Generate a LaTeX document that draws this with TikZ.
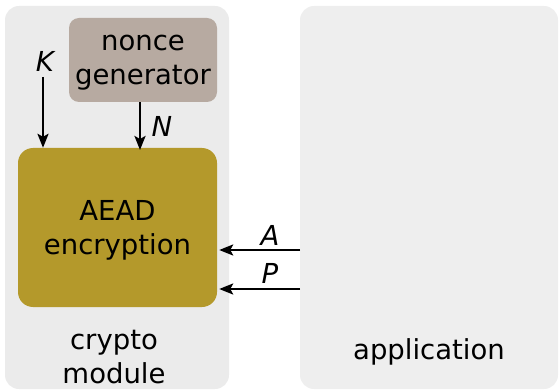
\documentclass[tikz,border=0pt]{standalone}
\usepackage{fontspec}
\setmainfont{DejaVu Sans}
\usetikzlibrary{arrows.meta}
\definecolor{modbg}{HTML}{EBEBEB}
\definecolor{appbg}{HTML}{EEEEEE}
\definecolor{noncec}{HTML}{B7AAA1}
\definecolor{aeadc}{HTML}{B4992B}
\tikzset{
  lbl/.style={font=\fontsize{27.5}{34}\selectfont, inner sep=0pt, align=center},
  var/.style={font=\fontsize{27.5}{34}\selectfont\itshape, inner sep=0pt},
  arrowline/.style={draw=black, line width=2.4pt, arrows={-Stealth[length=14pt,width=11pt,inset=3pt]}},
  box/.style={inner sep=0pt, draw=none},
}
\begin{document}
\begin{tikzpicture}[x=1pt,y=-1pt]
\useasboundingbox (0,0) rectangle (559,390);
\fill[modbg, rounded corners=14pt] (5,6) rectangle (229,389);
\fill[appbg, rounded corners=14pt] (300,6) rectangle (558,389);
\node[lbl] (crypto) at (114,357) {crypto\\module};
\node[lbl] (app) at (429,352) {application};
\node[box, fill=noncec, rounded corners=10pt, minimum width=148pt, minimum height=84pt] (nonce) at (143,60) {};
\node[lbl] (noncetxt) at (143,63) {nonce\\generator};
\node[box, fill=aeadc, rounded corners=15pt, minimum width=199pt, minimum height=159pt] (aead) at (117.5,227.5) {};
\node[lbl] (aeadtxt) at (117.5,230) {AEAD\\encryption};
\node[var] (K) at (45,61) {K};
\coordinate (kstart) at (43,77);
\path[arrowline] (kstart) -- (kstart |- aead.north);
\path[arrowline] (nonce.south -| 140,0) -- (140,150);
\node[var] (N) at (162,126) {N};
\coordinate (astart) at (300,250);
\coordinate (pstart) at (300,289);
\path[arrowline] (astart) -- ([xshift=2pt]astart -| aead.east);
\path[arrowline] (pstart) -- ([xshift=2pt]pstart -| aead.east);
\node[var] (A) at (270,235) {A};
\node[var] (P) at (270,273) {P};
\end{tikzpicture}
\end{document}
